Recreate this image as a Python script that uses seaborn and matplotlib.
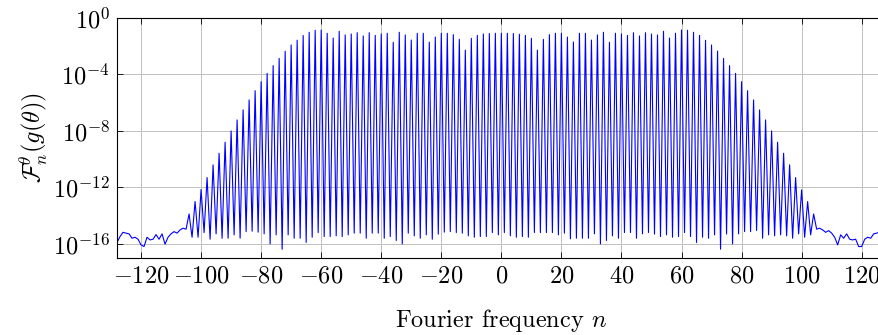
import numpy as np
import matplotlib
matplotlib.use("Agg")
import matplotlib.pyplot as plt
import seaborn as sns

# Fourier frequencies n = -128 .. 128
freq = np.arange(-128, 129)

# log10 of |F_n|, one value per frequency
log_mag = [
    -15.91, -15.48, -15.18, -15.24, -15.29, -15.60, -15.53, -15.67, -16.07, -16.19,   # -128..-119
    -15.53, -15.72, -15.67, -15.34, -15.67, -15.29, -16.02, -15.53, -15.29, -15.13,   # -118..-109
    -15.24, -15.01, -14.89, -14.96, -13.88, -15.53, -13.00, -15.53, -12.15, -15.20,   # -108..-99
    -11.30, -15.67, -10.40, -15.29, -9.58, -15.60, -8.80, -15.60, -8.00, -15.36,      # -98..-89
    -7.22, -15.60, -6.51, -15.13, -5.80, -15.10, -5.15, -15.17, -4.51, -15.29,        # -88..-79
    -3.92, -16.00, -3.37, -15.36, -2.86, -16.38, -2.36, -15.36, -1.91, -15.60,        # -78..-69
    -1.57, -15.60, -1.24, -15.90, -1.01, -15.53, -0.87, -15.20, -0.85, -15.48,        # -68..-59
    -1.08, -15.48, -1.42, -15.43, -0.94, -15.48, -1.20, -15.36, -1.13, -15.24,        # -58..-49
    -1.04, -15.24, -1.27, -15.60, -1.04, -15.24, -1.23, -15.24, -1.13, -15.60,        # -48..-39
    -1.08, -15.48, -1.72, -15.76, -1.01, -16.00, -1.20, -15.24, -1.56, -15.43,        # -38..-29
    -1.08, -15.60, -1.08, -15.36, -1.71, -15.67, -1.35, -15.31, -1.08, -15.17,        # -28..-19
    -1.08, -15.13, -1.18, -15.20, -1.51, -15.24, -2.27, -15.43, -1.44, -15.53,        # -18..-9
    -1.23, -15.48, -1.13, -15.48, -1.10, -15.20, -1.08, -15.36,                       # -8..-1
    -1.08,                                                                            # 0
    -15.20, -1.08, -15.43, -1.10, -15.53, -1.15, -15.48, -1.23, -15.53, -1.44,        # 1..10
    -15.20, -2.27, -15.20, -1.51, -15.20, -1.18, -15.20, -1.08, -15.36, -1.08,        # 11..20
    -15.24, -1.35, -15.64, -1.70, -15.60, -1.08, -15.60, -1.08, -15.60, -1.56,        # 21..30
    -15.29, -1.20, -16.00, -1.01, -15.76, -1.72, -15.43, -1.08, -15.60, -1.13,        # 31..40
    -15.20, -1.23, -15.20, -1.04, -15.60, -1.27, -15.29, -1.04, -15.20, -1.13,        # 41..50
    -15.31, -1.20, -15.48, -0.94, -15.36, -1.42, -15.53, -1.08, -15.48, -0.85,        # 51..60
    -15.20, -0.87, -15.48, -1.01, -15.90, -1.23, -15.53, -1.58, -15.60, -1.91,        # 61..70
    -15.36, -2.34, -16.38, -2.86, -15.30, -3.37, -16.00, -3.92, -15.29, -4.51,        # 71..80
    -15.13, -5.15, -15.13, -5.80, -15.05, -6.51, -15.60, -7.22, -15.36, -8.00,        # 81..90
    -15.43, -8.80, -15.36, -9.58, -15.43, -10.40, -15.60, -11.30, -15.29, -12.18,     # 91..100
    -15.53, -13.00, -15.36, -13.88, -14.96, -14.89, -15.01, -15.18, -15.06, -15.24,   # 101..110
    -15.53, -16.07, -15.36, -15.60, -15.29, -15.67, -15.72, -15.67, -16.19, -16.19,   # 111..120
    -15.67, -15.53, -15.60, -15.29, -15.24, -15.18, -15.48, -15.91,                   # 121..128
]

x_ticks = [-120, -100, -80, -60, -40, -20, 0, 20, 40, 60, 80, 100, 120]
y_ticks = [1e0, 1e-4, 1e-8, 1e-12, 1e-16]

plt.rcParams['font.family'] = 'cmr10'
plt.rcParams['mathtext.fontset'] = 'cm'
plt.rcParams['axes.formatter.use_mathtext'] = True
plt.rcParams['font.size'] = 17.5

fig = plt.figure(figsize=(8.79, 3.35), dpi=100)
# axes runs slightly past the right edge of the picture, as in the reference
ax = fig.add_axes([117 / 879, 77 / 335, 768.7 / 879, 240 / 335])

sns.lineplot(x=freq, y=10.0 ** np.array(log_mag), color='#0000ff', linewidth=0.8, ax=ax)

ax.set_yscale('log')
ax.set_xlim(-128, 128)
ax.set_ylim(1e-17, 1e0)
ax.set_xticks(x_ticks)
ax.set_yticks(y_ticks)
ax.minorticks_off()
ax.grid(True, color='#bfbfbf', linewidth=0.7)
ax.set_axisbelow(True)
ax.tick_params(direction='in', top=True, right=True, length=4, width=0.6, pad=5)
for s in ax.spines.values():
    s.set_linewidth(0.8)

ax.set_xlabel(r'Fourier frequency $n$', labelpad=14)
ax.set_ylabel(r'$\mathcal{F}^{\theta}_{n}(g(\theta))$', labelpad=2)

fig.savefig('out.png', dpi=100)
